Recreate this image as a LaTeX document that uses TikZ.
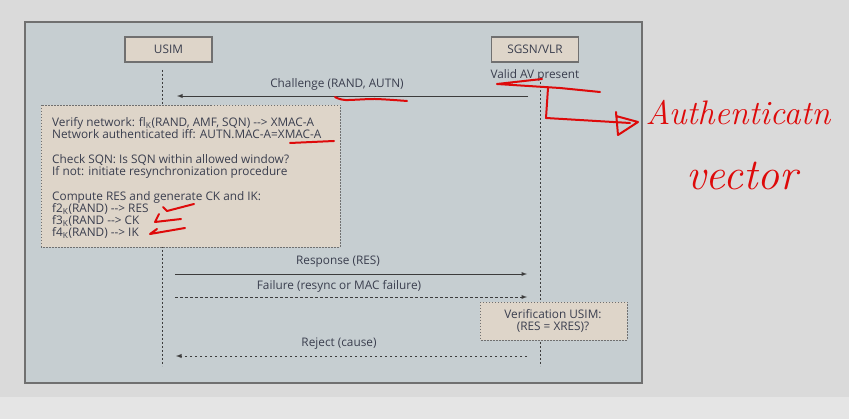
\documentclass[tikz,border=0pt]{standalone}
\usepackage{fontspec}
\setsansfont{Open Sans}
\usepackage{tikz}
\usetikzlibrary{arrows,calc}

\definecolor{backgray}{RGB}{218,218,218}
\definecolor{panelfill}{RGB}{198,206,209}
\definecolor{panelline}{RGB}{112,112,112}
\definecolor{beige}{RGB}{222,213,201}
\definecolor{txt}{RGB}{58,62,78}
\definecolor{msgline}{RGB}{60,60,60}
\definecolor{redink}{RGB}{222,10,10}

\tikzset{
  entity/.style={draw=panelline, fill=beige, line width=1.2pt, minimum width=87pt, minimum height=25pt, inner sep=0pt, font=\sffamily\fontsize{11.8}{12.3}\selectfont, text=txt},
  notebox/.style={draw=panelline, fill=beige, line width=0.8pt, dash pattern=on 1.5pt off 1.5pt},
  lifeline/.style={draw=msgline, line width=0.8pt, dash pattern=on 2pt off 2pt},
  msg/.style={draw=msgline, line width=0.9pt, -latex},
  failmsg/.style={msg, dash pattern=on 2.5pt off 2.5pt},
  lbl/.style={font=\sffamily\fontsize{11.8}{12.3}\selectfont, text=txt, inner sep=0pt},
  ink/.style={draw=redink, line width=2pt, line cap=round, line join=round},
  scrawl/.style={font=\itshape\fontsize{34}{40}\selectfont, text=redink, inner sep=0pt}
}
\newcommand{\subK}{\textsubscript{K}}
\newcommand{\arr}{-{}-{}>}

\begin{document}
\begin{tikzpicture}[x=1pt,y=-1pt]
\useasboundingbox (0,0) rectangle (849,419);
\fill[backgray] (0,0) rectangle (849,419);
\fill[backgray!70!white] (0,397) rectangle (849,419);
\draw[panelline, fill=panelfill, line width=1.6pt] (25,22) rectangle (642,383);

% entities and lifelines
\node[entity] (usim) at (168.5,49.5) {USIM};
\node[entity] (sgsn) at (535,49.5) {SGSN/VLR};
\node[lbl] (validav) at (535,75) {Valid AV present};
\coordinate (utop) at (162,70);
\coordinate (ubot) at (162,366);
\coordinate (stop) at (540,82);
\coordinate (sbot) at (540,366);
\draw[lifeline] (utop) -- (ubot);
\draw[lifeline] (stop) -- (sbot);

% challenge
\coordinate (ch1) at (528,96);
\coordinate (ch2) at (177,96);
\draw[msg] (ch1) -- (ch2);
\node[lbl] (chlbl) at (337,84) {Challenge (RAND, AUTN)};

% USIM processing
\draw[notebox] (41,105) rectangle (340,247);
\node[lbl, anchor=north west, align=left] (usimtxt) at (52,117) {%
Verify network: fl\subK(RAND, AMF, SQN) \arr{} XMAC-A\\
Network authenticated iff: AUTN.MAC-A=XMAC-A\\[12.3pt]
Check SQN: Is SQN within allowed window?\\
If not: initiate resynchronization procedure\\[12.3pt]
Compute RES and generate CK and IK:\\
f2\subK(RAND) \arr{} RES\\
f3\subK(RAND \arr{} CK\\
f4\subK(RAND) \arr{} IK};

% response and failure
\coordinate (rs1) at (175,274);
\coordinate (rs2) at (527,274);
\draw[msg] (rs1) -- (rs2);
\node[lbl] (rslbl) at (338,262) {Response (RES)};
\coordinate (fl1) at (175,297);
\coordinate (fl2) at (527,297);
\draw[failmsg] (fl1) -- (fl2);
\node[lbl] (fllbl) at (339,286) {Failure (resync or MAC failure)};

% verification
\draw[notebox] (480,302) rectangle (627,340);
\node[lbl, align=center] (verif) at (553,321) {Verification USIM:\\(RES = XRES)?};

% reject
\coordinate (rj1) at (527,356);
\coordinate (rj2) at (176,356);
\draw[failmsg] (rj1) -- (rj2);
\node[lbl] (rjlbl) at (339,344) {Reject (cause)};

% red annotations
\draw[ink] plot[smooth] coordinates {(335,97) (345,100) (375,99) (407,101)};
\draw[ink] plot[smooth] coordinates {(290,143) (312,142) (334,141)};
\draw[ink] (163,207) -- (167,211) -- (194,204);
\draw[ink] (159,214) -- (155,222) -- (181,219);
\draw[ink] (185,228) -- (150,234) -- (157,229);
\draw[ink] (542,79) -- (497,84) -- (560,88) -- (600,92);
\draw[ink] (548,88) -- (546,118) -- (630,123);
\draw[ink] (616,112) -- (618,135) -- (638,122) -- (616,116);
\node[scrawl] (hw1) at (738,113) {Authenticatn};
\node[scrawl, font=\itshape\fontsize{44}{48}\selectfont] (hw2) at (742,176) {vector};
\end{tikzpicture}
\end{document}
